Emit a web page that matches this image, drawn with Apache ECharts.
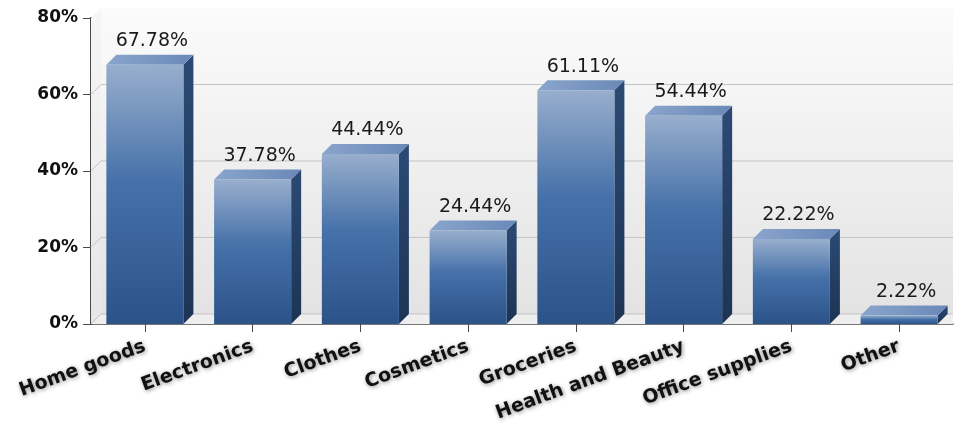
<!DOCTYPE html>
<html>
<head>
<meta charset="utf-8">
<script src="https://cdn.jsdelivr.net/npm/echarts@6/dist/echarts.min.js"></script>
<style>
  html, body { margin: 0; padding: 0; background: #ffffff; }
  #chart { width: 956px; height: 424px; }
</style>
</head>
<body>
<div id="chart"></div>
<script>
// Share of respondents per shopping category
const categories = ['Home goods', 'Electronics', 'Clothes', 'Cosmetics', 'Groceries', 'Health and Beauty', 'Office supplies', 'Other'];
const shares = [67.78, 37.78, 44.44, 24.44, 61.11, 54.44, 22.22, 2.22];
const yTicks = [0, 20, 40, 60, 80];

// depth of the fake 3D extrusion, in pixels
const DEPTH = 10;

const chart = echarts.init(document.getElementById('chart'), null, { renderer: 'canvas' });

// back wall, left wall, floor and wall grid lines
function renderWalls(params, api) {
  const cs = params.coordSys;
  const left = cs.x, right = cs.x + cs.width;
  const bottom = cs.y + cs.height, top = cs.y;
  const children = [];
  children.push({
    type: 'rect',
    shape: { x: left + DEPTH, y: top - DEPTH, width: right - left - DEPTH, height: bottom - top },
    style: {
      fill: new echarts.graphic.LinearGradient(0, 0, 0, 1, [
        { offset: 0, color: '#fbfbfb' },
        { offset: 1, color: '#e3e3e3' }
      ])
    },
    silent: true
  });
  children.push({
    type: 'polygon',
    shape: { points: [[left, top], [left + DEPTH, top - DEPTH], [left + DEPTH, bottom - DEPTH], [left, bottom]] },
    style: {
      fill: new echarts.graphic.LinearGradient(0, 0, 0, 1, [
        { offset: 0, color: '#f6f6f6' },
        { offset: 1, color: '#e6e6e6' }
      ])
    },
    silent: true
  });
  children.push({
    type: 'polygon',
    shape: { points: [[left, bottom], [left + DEPTH, bottom - DEPTH], [right, bottom - DEPTH], [right, bottom]] },
    style: { fill: '#eeeeee' },
    silent: true
  });
  yTicks.forEach(function (t) {
    if (t === yTicks[yTicks.length - 1]) return;
    const y = api.coord([0, t])[1];
    children.push({
      type: 'polyline',
      shape: { points: [[left, y], [left + DEPTH, y - DEPTH], [right, y - DEPTH]] },
      style: { stroke: '#c4c4c4', lineWidth: 1, fill: null },
      silent: true
    });
  });
  return { type: 'group', children: children };
}

// extruded bar: front face, top face, side face and value label
function renderBar(params, api) {
  const idx = api.value(0);
  const val = api.value(1);
  const topPt = api.coord([idx, val]);
  const basePt = api.coord([idx, 0]);
  const bw = api.size([1, 0])[0] * 0.715;
  const l = topPt[0] - bw / 2, r = topPt[0] + bw / 2;
  const ty = topPt[1], by = basePt[1];
  return {
    type: 'group',
    children: [
      {
        type: 'polygon',
        shape: { points: [[r, ty], [r + DEPTH, ty - DEPTH], [r + DEPTH, by - DEPTH], [r, by]] },
        style: {
          fill: new echarts.graphic.LinearGradient(0, 0, 0, 1, [
            { offset: 0, color: '#2b4a74' },
            { offset: 1, color: '#1d3454' }
          ])
        }
      },
      {
        type: 'polygon',
        shape: { points: [[l, ty], [l + DEPTH, ty - DEPTH], [r + DEPTH, ty - DEPTH], [r, ty]] },
        style: {
          fill: new echarts.graphic.LinearGradient(0, 0, 1, 0, [
            { offset: 0, color: '#8aa5cc' },
            { offset: 1, color: '#6a89b8' }
          ])
        }
      },
      {
        type: 'rect',
        shape: { x: l, y: ty, width: bw, height: by - ty },
        style: {
          fill: new echarts.graphic.LinearGradient(0, 0, 0, 1, [
            { offset: 0, color: '#98aecd' },
            { offset: 0.45, color: '#4671a9' },
            { offset: 1, color: '#2b5389' }
          ])
        }
      },
      {
        type: 'text',
        style: {
          text: val.toFixed(2) + '%',
          x: topPt[0] + 7,
          y: ty - DEPTH - 4,
          align: 'center',
          verticalAlign: 'bottom',
          fontFamily: 'DejaVu Sans',
          fontSize: 19,
          fill: '#1a1a1a'
        }
      }
    ]
  };
}

const option = {
  backgroundColor: '#ffffff',
  animation: false,
  grid: { left: 91, right: 3, top: 18, bottom: 98, containLabel: false },
  xAxis: {
    type: 'category',
    data: categories,
    axisLine: { show: true, lineStyle: { color: '#4a4a4a', width: 1.5 } },
    axisTick: { show: true, alignWithLabel: true, length: 8, lineStyle: { color: '#4a4a4a' } },
    splitLine: { show: false },
    axisLabel: {
      interval: 0,
      rotate: 20,
      margin: 22,
      fontFamily: 'DejaVu Sans',
      fontWeight: 'bold',
      fontSize: 19,
      color: '#111111',
      textShadowColor: 'rgba(0,0,0,0.45)',
      textShadowBlur: 4,
      textShadowOffsetX: 1,
      textShadowOffsetY: 1
    }
  },
  yAxis: {
    type: 'value',
    min: yTicks[0],
    max: yTicks[yTicks.length - 1],
    interval: yTicks[1] - yTicks[0],
    axisLine: { show: true, lineStyle: { color: '#4a4a4a', width: 2 } },
    axisTick: { show: true, length: 8, lineStyle: { color: '#4a4a4a' } },
    splitLine: { show: false },
    axisLabel: {
      formatter: '{value}%',
      margin: 13,
      fontFamily: 'DejaVu Sans',
      fontWeight: 'bold',
      fontSize: 17,
      color: '#111111'
    }
  },
  series: [
    {
      type: 'custom',
      name: 'walls',
      renderItem: renderWalls,
      data: [[0, 0]],
      z: 1,
      silent: true
    },
    {
      type: 'custom',
      name: 'Share',
      renderItem: renderBar,
      data: shares.map(function (v, i) { return [i, v]; }),
      encode: { x: 0, y: 1 },
      z: 2
    }
  ]
};

chart.setOption(option);
</script>
</body>
</html>
